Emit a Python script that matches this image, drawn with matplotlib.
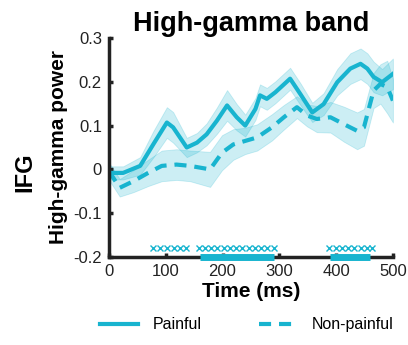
import numpy as np
import matplotlib
matplotlib.use("Agg")
import matplotlib.pyplot as plt

plt.rcParams["font.family"] = ["Liberation Sans", "DejaVu Sans"]

CYAN = "#18b4cf"

# Painful (solid)
t_pain = [0, 25, 55, 78, 102, 113, 137, 155, 172, 190, 208, 225, 240, 258, 266,
          278, 293, 319, 337, 358, 378, 402, 425, 443, 455, 466, 481, 500]
y_pain = [-0.008, -0.008, 0.008, 0.057, 0.107, 0.096, 0.05, 0.061, 0.08, 0.111,
          0.146, 0.119, 0.1, 0.138, 0.169, 0.161, 0.176, 0.207, 0.172, 0.13,
          0.149, 0.199, 0.23, 0.241, 0.23, 0.211, 0.199, 0.218]
e_pain = [0.015, 0.015, 0.02, 0.03, 0.035, 0.035, 0.022, 0.022, 0.025, 0.03,
          0.035, 0.03, 0.025, 0.025, 0.025, 0.025, 0.025, 0.025, 0.025, 0.022,
          0.025, 0.03, 0.035, 0.035, 0.035, 0.035, 0.03, 0.035]

# Non-painful (dashed)
t_non = [0, 19, 43, 69, 93, 119, 143, 178, 199, 219, 240, 261, 287, 308, 331,
         349, 366, 390, 414, 437, 449, 466, 478, 490, 500]
y_non = [-0.004, -0.042, -0.027, -0.008, 0.008, 0.011, 0.008, 0.0, 0.038, 0.057,
         0.065, 0.073, 0.096, 0.119, 0.142, 0.123, 0.115, 0.119, 0.103, 0.088,
         0.096, 0.18, 0.195, 0.188, 0.157]
e_non = [0.02, 0.02, 0.025, 0.03, 0.035, 0.035, 0.035, 0.04, 0.04, 0.035,
         0.03, 0.03, 0.03, 0.028, 0.025, 0.025, 0.03, 0.035, 0.04, 0.042,
         0.042, 0.04, 0.045, 0.06, 0.05]

# significance markers and bars
x_marks = [78, 90, 102, 114, 126, 136,
           158, 169, 180, 191, 202, 213, 224, 235, 246, 257, 268, 279, 290,
           388, 399, 410, 421, 432, 443, 454, 464]
sig_bars = [(160, 290), (390, 460)]

fig = plt.figure(figsize=(4.08, 3.45), dpi=100)
ax = fig.add_axes([0.267, 0.255, 0.696, 0.635])

yp, ep = np.array(y_pain), np.array(e_pain)
yn, en = np.array(y_non), np.array(e_non)
ax.fill_between(t_pain, yp - ep, yp + ep, color=CYAN, alpha=0.22, lw=0.6, edgecolor=CYAN)
ax.fill_between(t_non, yn - en, yn + en, color=CYAN, alpha=0.22, lw=0.6, edgecolor=CYAN)
ax.plot(t_pain, y_pain, color=CYAN, lw=3, label="Painful")
ax.plot(t_non, y_non, color=CYAN, lw=3, dashes=(2.9, 1.9), label="Non-painful")

ax.plot(x_marks, [-0.18] * len(x_marks), "x", color=CYAN, ms=4.5, mew=1)
for a, b in sig_bars:
    ax.plot([a, b], [-0.2, -0.2], color=CYAN, lw=5, solid_capstyle="butt", clip_on=False, zorder=4)

ax.set_xlim(0, 500)
ax.set_ylim(-0.2, 0.3)
ax.set_xticks([0, 100, 200, 300, 400, 500])
ax.set_yticks([-0.2, -0.1, 0, 0.1, 0.2, 0.3])
ax.set_yticklabels(["-0.2", "-0.1", "0", "0.1", "0.2", "0.3"])
ax.tick_params(direction="in", length=3, width=2.5, labelsize=12, colors="#222222", pad=5)
for s in ["top", "right"]:
    ax.spines[s].set_visible(False)
for s in ["left", "bottom"]:
    ax.spines[s].set_linewidth(2.5)
    ax.spines[s].set_color("#222222")

ax.set_title("High-gamma band", fontsize=19.5, fontweight="bold", pad=5)
ax.set_xlabel("Time (ms)", fontsize=15, fontweight="bold", labelpad=2)
ax.set_ylabel("High-gamma power", fontsize=15, fontweight="bold", labelpad=4)
fig.text(0.06, 0.5, "IFG", rotation=90, fontsize=17, fontweight="bold", ha="center", va="center")

fig.legend(loc="lower center", bbox_to_anchor=(0.605, -0.005), ncol=2, frameon=False,
           fontsize=11.5, handlelength=2.4, columnspacing=3.6, handletextpad=0.9)

fig.savefig("out.png", dpi=100)
